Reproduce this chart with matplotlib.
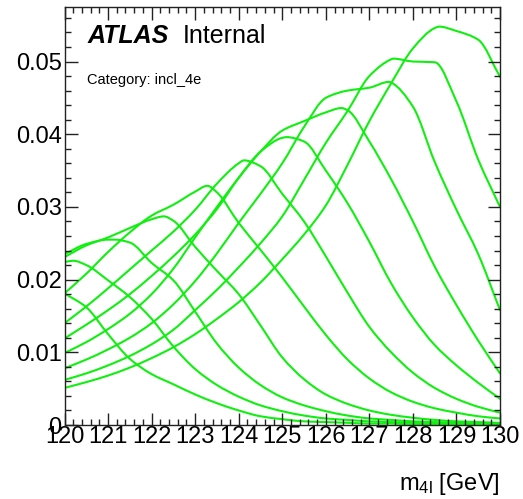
import matplotlib
matplotlib.use("Agg")
import matplotlib.pyplot as plt
from matplotlib.path import Path
from matplotlib.patches import PathPatch
from matplotlib.ticker import MultipleLocator, FuncFormatter

plt.rcParams['font.family'] = ['Liberation Sans', 'DejaVu Sans']
plt.rcParams['mathtext.fontset'] = 'custom'
plt.rcParams['mathtext.rm'] = 'Liberation Sans'
plt.rcParams['mathtext.it'] = 'Liberation Sans:italic'

# m4l sampling points [GeV]
mass = [120.0, 120.5, 121.0, 121.5, 122.0, 122.5, 123.0, 123.5, 124.0, 124.5, 125.0,
        125.5, 126.0, 126.5, 127.0, 127.5, 128.0, 128.5, 129.0, 129.5, 130.0]

# signal shapes in the incl_4e category, one per mass hypothesis
shape_0 = [0.0181, 0.0162, 0.0125, 0.0091, 0.0070, 0.0056, 0.0042, 0.0030, 0.0020, 0.0012, 0.0008,
           0.0005, 0.0004, 0.0003, 0.0002, 0.0002, 0.0001, 0.0001, 0.0001, 0.0001, 0.0001]
shape_1 = [0.0224, 0.0220, 0.0199, 0.0176, 0.0146, 0.0108, 0.0077, 0.0055, 0.0039, 0.0027, 0.0019,
           0.0013, 0.0009, 0.0007, 0.0005, 0.0004, 0.0003, 0.0002, 0.0002, 0.0001, 0.0001]
shape_2 = [0.0235, 0.0249, 0.0255, 0.0251, 0.0223, 0.0199, 0.0156, 0.0112, 0.0079, 0.0055, 0.0038,
           0.0027, 0.0019, 0.0013, 0.0009, 0.0007, 0.0005, 0.0004, 0.0003, 0.0002, 0.0002]
shape_3 = [0.0231, 0.0247, 0.0258, 0.0271, 0.0283, 0.0281, 0.0245, 0.0212, 0.0180, 0.0137, 0.0093,
           0.0063, 0.0042, 0.0029, 0.0020, 0.0014, 0.0010, 0.0007, 0.0005, 0.0004, 0.0003]
shape_4 = [0.0181, 0.0208, 0.0238, 0.0265, 0.0288, 0.0303, 0.0321, 0.0320, 0.0278, 0.0241, 0.0203,
           0.0163, 0.0124, 0.0090, 0.0064, 0.0045, 0.0032, 0.0023, 0.0017, 0.0012, 0.0009]
shape_5 = [0.0140, 0.0163, 0.0188, 0.0214, 0.0240, 0.0266, 0.0296, 0.0332, 0.0360, 0.0356, 0.0318,
           0.0280, 0.0232, 0.0182, 0.0135, 0.0100, 0.0072, 0.0051, 0.0036, 0.0025, 0.0017]
shape_6 = [0.0119, 0.0138, 0.0158, 0.0180, 0.0205, 0.0232, 0.0262, 0.0297, 0.0340, 0.0376, 0.0395,
           0.0390, 0.0350, 0.0305, 0.0252, 0.0195, 0.0148, 0.0110, 0.0082, 0.0058, 0.0036]
shape_7 = [0.0099, 0.0114, 0.0132, 0.0153, 0.0180, 0.0215, 0.0258, 0.0300, 0.0340, 0.0376, 0.0405,
           0.0418, 0.0430, 0.0433, 0.0390, 0.0338, 0.0280, 0.0218, 0.0165, 0.0116, 0.0071]
shape_8 = [0.0078, 0.0090, 0.0104, 0.0120, 0.0140, 0.0166, 0.0198, 0.0236, 0.0278, 0.0318, 0.0360,
           0.0410, 0.0450, 0.0460, 0.0464, 0.0471, 0.0438, 0.0362, 0.0296, 0.0235, 0.0158]
shape_9 = [0.0062, 0.0071, 0.0082, 0.0095, 0.0111, 0.0131, 0.0158, 0.0186, 0.0217, 0.0250, 0.0287,
           0.0337, 0.0388, 0.0432, 0.0480, 0.0503, 0.0500, 0.0499, 0.0445, 0.0365, 0.0300]
shape_10 = [0.0051, 0.0059, 0.0068, 0.0079, 0.0092, 0.0107, 0.0125, 0.0146, 0.0169, 0.0196, 0.0228,
            0.0262, 0.0302, 0.0358, 0.0418, 0.0470, 0.0518, 0.0546, 0.0542, 0.0530, 0.0479]

# maximum of each shape (position in GeV, height); None if it lies below 120 GeV
peak_mass = [None, 120.2, 121.15, 122.28, 123.28, 124.12, 125.1, 126.36, 127.45, 127.55, 128.6]
peak_height = [None, 0.0226, 0.0255, 0.0287, 0.0329, 0.0364, 0.0396, 0.0436, 0.0472, 0.0504, 0.0548]

shapes = [shape_0, shape_1, shape_2, shape_3, shape_4, shape_5,
          shape_6, shape_7, shape_8, shape_9, shape_10]

LINE_COLOR = '#10f010'


def with_peak(xs, ys, pm, ph):
    """Add the maximum of a shape to its sampled points."""
    pts = list(zip(xs, ys))
    if pm is not None:
        pts = [p for p in pts if abs(p[0] - pm) > 1e-9] + [(pm, ph)]
        pts.sort()
    return [p[0] for p in pts], [p[1] for p in pts]


def smooth_path(xs, ys):
    """Smooth curve through the points (like ROOT's "C" option), monotone cubic segments."""
    n = len(xs)
    h = [xs[i + 1] - xs[i] for i in range(n - 1)]
    d = [(ys[i + 1] - ys[i]) / h[i] for i in range(n - 1)]
    slope = [0.0] * n
    slope[0], slope[-1] = d[0], d[-1]
    for i in range(1, n - 1):
        if d[i - 1] * d[i] <= 0:
            slope[i] = 0.0
        else:
            w1 = 2 * h[i] + h[i - 1]
            w2 = h[i] + 2 * h[i - 1]
            slope[i] = (w1 + w2) / (w1 / d[i - 1] + w2 / d[i])
    verts = [(xs[0], ys[0])]
    codes = [Path.MOVETO]
    for i in range(n - 1):
        t = h[i] / 3
        verts += [(xs[i] + t, ys[i] + slope[i] * t),
                  (xs[i + 1] - t, ys[i + 1] - slope[i + 1] * t),
                  (xs[i + 1], ys[i + 1])]
        codes += [Path.CURVE4] * 3
    return Path(verts, codes)


fig = plt.figure(figsize=(5.23, 4.99), dpi=100)
ax = fig.add_axes([64.5 / 523, 74 / 499, 435.5 / 523, 418 / 499])

for ys, pm, ph in zip(shapes, peak_mass, peak_height):
    x, y = with_peak(mass, ys, pm, ph)
    ax.add_patch(PathPatch(smooth_path(x, y), fill=False, edgecolor=LINE_COLOR,
                           lw=1.5, capstyle='round', joinstyle='round'))

ax.set_xlim(120, 130)
ax.set_ylim(0, 0.0575)

ax.xaxis.set_major_locator(MultipleLocator(1))
ax.xaxis.set_minor_locator(MultipleLocator(0.2))
ax.yaxis.set_major_locator(MultipleLocator(0.01))
ax.yaxis.set_minor_locator(MultipleLocator(0.002))
ax.yaxis.set_major_formatter(FuncFormatter(lambda v, _: f'{v:g}'))
ax.xaxis.set_major_formatter(FuncFormatter(lambda v, _: f'{v:g}'))

ax.tick_params(which='both', direction='in', top=True, right=True, width=1, color='#222222')
ax.tick_params(which='major', length=9, labelsize=17)
ax.tick_params(which='minor', length=4.5)
ax.tick_params(axis='x', pad=1)
ax.tick_params(axis='y', pad=2)
for s in ax.spines.values():
    s.set_linewidth(1)
    s.set_color('#222222')

ax.text(0.052, 0.9146, 'ATLAS', transform=ax.transAxes, fontsize=18,
        fontweight='bold', fontstyle='italic', va='baseline')
ax.text(0.272, 0.9146, 'Internal', transform=ax.transAxes, fontsize=18, va='baseline')
ax.text(0.052, 0.816, 'Category: incl_4e', transform=ax.transAxes, fontsize=10.5, va='baseline')

fig.text(500 / 523, 9 / 499, r'm$_{\mathrm{4l}}$ [GeV]', fontsize=17, ha='right', va='baseline')

fig.savefig('out.png', dpi=100)
